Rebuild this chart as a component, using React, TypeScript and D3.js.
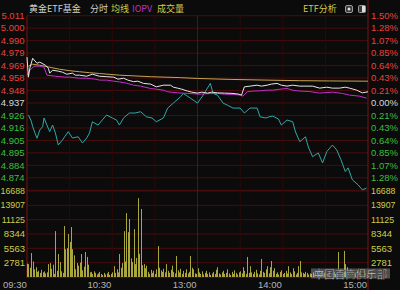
import React from 'react';
import * as d3 from 'd3';

const W = 400;
const H = 290;
const preClose = 4.937;
const priceMax = 5.011;
const priceMin = 4.863;
const volMax = 16688;

const priceTicks = ['5.011', '5.000', '4.990', '4.979', '4.969', '4.958', '4.948', '4.937', '4.926', '4.916', '4.905', '4.895', '4.884', '4.874'];
const pctTicks = ['1.50%', '1.28%', '1.07%', '0.85%', '0.64%', '0.43%', '0.21%', '0.00%', '0.21%', '0.43%', '0.64%', '0.85%', '1.07%', '1.28%'];
const volTicks = [16688, 13907, 11125, 8344, 5563, 2781];
const timeLabels = ['09:30', '10:30', '13:00', '14:00', '15:00'];
const timeLabelMin = [0, 60, 120, 180, 240];
const gridMinutes = [30, 60, 90, 120, 150, 180, 210];

// 分时 (white)
const priceT = [0, 1, 2, 4, 7, 9, 13, 15, 16, 18, 22, 25, 28, 32, 34, 37, 42, 46, 51, 56, 61, 64, 68, 71, 75, 78, 82, 87, 91, 96, 101, 103, 106, 109, 113, 116, 120, 123, 127, 130, 134, 139, 145, 149, 151, 153, 157, 162, 165, 169, 172, 176, 179, 183, 187, 192, 197, 201, 206, 211, 215, 220, 224, 227, 232, 236, 240];
const priceV = [4.9758, 4.9589, 4.9665, 4.9749, 4.9707, 4.9716, 4.969, 4.9665, 4.9623, 4.9648, 4.964, 4.9631, 4.9614, 4.9623, 4.9606, 4.9606, 4.9597, 4.9614, 4.9597, 4.9593, 4.9589, 4.9572, 4.958, 4.9564, 4.9551, 4.9555, 4.9536, 4.953, 4.9507, 4.9521, 4.9521, 4.9504, 4.9496, 4.9487, 4.9471, 4.9462, 4.9454, 4.9462, 4.9454, 4.9462, 4.9456, 4.9454, 4.9451, 4.9445, 4.9437, 4.9507, 4.9513, 4.9521, 4.9513, 4.9521, 4.953, 4.9536, 4.9521, 4.9513, 4.9521, 4.9513, 4.9513, 4.9513, 4.9496, 4.9504, 4.9496, 4.9496, 4.9504, 4.9496, 4.9479, 4.9456, 4.9465];

// IOPV (magenta)
const iopvT = [0, 2, 5, 9, 12, 14, 20, 27, 30, 37, 42, 48, 51, 56, 61, 65, 70, 75, 80, 87, 91, 96, 99, 106, 113, 122, 127, 134, 139, 145, 150, 152, 155, 159, 164, 169, 173, 178, 183, 187, 192, 199, 206, 215, 222, 227, 234, 239];
const iopvV = [4.9606, 4.9648, 4.9682, 4.9682, 4.9673, 4.9606, 4.9597, 4.9589, 4.9589, 4.958, 4.958, 4.9572, 4.9564, 4.9564, 4.9555, 4.9549, 4.9538, 4.9521, 4.9513, 4.9493, 4.9487, 4.9479, 4.9465, 4.9456, 4.9451, 4.9445, 4.9449, 4.9451, 4.9445, 4.9443, 4.9437, 4.9428, 4.9465, 4.9471, 4.9473, 4.9479, 4.9479, 4.9487, 4.9493, 4.9479, 4.9471, 4.9467, 4.9454, 4.9462, 4.9451, 4.9437, 4.9428, 4.9411];

// 均线 (yellow)
const avgT = [1, 4, 9, 16, 23, 30, 37, 44, 51, 65, 87, 108, 120, 143, 169, 192, 213, 240];
const avgV = [4.9682, 4.9699, 4.969, 4.9673, 4.9656, 4.9644, 4.9635, 4.9627, 4.962, 4.9606, 4.9593, 4.9585, 4.9578, 4.957, 4.9564, 4.9559, 4.9557, 4.9555];

// cyan line
const cyanT = [1, 3, 4, 7, 9, 11, 12, 14, 16, 18, 20, 22, 25, 29, 32, 36, 39, 42, 44, 46, 50, 53, 56, 60, 63, 65, 68, 72, 76, 80, 84, 88, 91, 96, 99, 103, 108, 110, 115, 120, 124, 127, 129, 131, 134, 138, 141, 145, 150, 153, 157, 162, 164, 168, 171, 173, 177, 179, 183, 187, 189, 192, 196, 198, 201, 205, 208, 211, 215, 218, 221, 224, 226, 229, 233, 236, 239];
const cyanV = [4.9268, 4.9217, 4.9169, 4.9071, 4.9141, 4.9169, 4.9243, 4.9183, 4.9127, 4.9183, 4.9116, 4.9014, 4.9057, 4.9127, 4.9073, 4.9084, 4.9031, 4.9073, 4.9116, 4.9211, 4.9183, 4.9226, 4.9268, 4.9243, 4.9226, 4.9183, 4.9243, 4.9285, 4.9285, 4.9296, 4.9253, 4.9243, 4.9211, 4.9243, 4.9327, 4.9369, 4.9422, 4.9451, 4.9411, 4.9369, 4.9437, 4.9496, 4.9536, 4.9451, 4.9437, 4.9369, 4.9352, 4.9327, 4.9327, 4.9285, 4.9327, 4.9327, 4.9253, 4.9243, 4.9255, 4.9259, 4.9234, 4.9183, 4.9226, 4.9211, 4.9124, 4.9042, 4.9084, 4.8997, 4.8915, 4.8947, 4.8862, 4.8958, 4.9014, 4.8972, 4.8888, 4.8789, 4.882, 4.8719, 4.8677, 4.8634, 4.8648];

// 成交量 per minute (241 bars)
const volumes = [
  2600, 2500, 1800, 4650, 3000, 1500, 1900, 1000, 1200, 800,
  1400, 900, 1100, 700, 900, 2500, 2700, 1600, 2400, 600,
  8900, 1200, 4460, 2900, 1100, 800, 9900, 5400, 5600, 8340,
  6800, 9700, 5400, 4200, 1500, 2700, 2200, 2800, 4460, 1300,
  2000, 4850, 3900, 2400, 900, 1000, 600, 1100, 800, 500,
  700, 1000, 600, 400, 800, 500, 700, 1000, 400, 600,
  900, 2100, 800, 1500, 900, 4460, 1800, 2700, 8900, 3000,
  12400, 8700, 11250, 3600, 2900, 9300, 2500, 3700, 15300, 4500,
  13200, 2300, 2500, 1700, 2200, 1000, 600, 1400, 800, 1200,
  600, 1500, 6000, 1800, 1300, 1000, 1600, 900, 2500, 1200,
  800, 1400, 2200, 1000, 700, 4070, 1300, 900, 1600, 600,
  1200, 800, 1500, 700, 1000, 4070, 1800, 1500, 700, 600,
  1700, 900, 600, 1100, 500, 800, 1200, 600, 900, 400,
  700, 1000, 600, 1400, 1900, 700, 500, 900, 1200, 600,
  800, 1500, 700, 400, 1000, 600, 1300, 800, 500, 900,
  1100, 700, 1900, 1200, 600, 3900, 800, 2100, 900, 600,
  1000, 1400, 700, 500, 1200, 3500, 1000, 800, 1500, 2100,
  700, 1900, 3100, 1200, 1700, 600, 900, 500, 1000, 1300,
  600, 800, 1200, 700, 2100, 900, 600, 1700, 1100, 500,
  800, 2100, 3100, 900, 800, 600, 1000, 800, 500, 700,
  600, 900, 500, 800, 1000, 600, 700, 1200, 500, 800,
  900, 600, 1100, 700, 500, 800, 1000, 600, 900, 4850,
  1500, 800, 1200, 5050, 2500, 1900, 1000, 1200, 700, 900,
  600, 800, 500, 700, 900, 600, 800, 500, 700, 600,
  900,
];

const NUM = '"Liberation Sans", Arial, sans-serif';
const CJK = '"Noto Sans CJK SC", "Noto Sans", sans-serif';

const RED = '#e8413c';
const GREEN = '#3cbf3c';
const NEUTRAL = '#d8d8d8';
const VOLTXT = '#d0cc48';
const GRID = '#4a0c0c';
const GRID2 = '#7a1414';

export default function App() {
  const x = d3.scaleLinear().domain([0, 240]).range([27, 368]);
  const yP = d3.scaleLinear().domain([priceMin, priceMax]).range([190.3, 15.7]);
  const yV = d3.scaleLinear().domain([0, volMax]).range([277, 191]);
  const step = (priceMax - priceMin) / 14;
  const gridPrices = d3.range(15).map((i) => priceMax - i * step);

  const mk = (t: number[], v: number[]) =>
    d3.line<number>().x((_, i) => x(t[i])).y((d) => yP(d))(v) || '';

  const labelColor = (i: number) => (i < 7 ? RED : i === 7 ? NEUTRAL : GREEN);

  return (
    <svg width={W} height={H} style={{ position: 'fixed', left: 0, top: 0, background: '#0b0b0b' }}>
      <rect x={0} y={0} width={W} height={H} fill="#0b0b0b" />
      {gridPrices.map((p, i) => (
        <line key={'hp' + i} x1={27} x2={368} y1={yP(p)} y2={yP(p)} stroke={GRID} strokeWidth={1} />
      ))}
      {[0, ...volTicks].map((v, i) => (
        <line key={'hv' + i} x1={27} x2={368} y1={yV(v)} y2={yV(v)} stroke={v === 0 ? GRID2 : GRID} strokeWidth={1} />
      ))}
      {gridMinutes.map((m) => (
        <line key={'vg' + m} x1={x(m)} x2={x(m)} y1={15.7} y2={277} stroke={m === 120 ? '#5a1010' : '#2e0808'} strokeWidth={1} />
      ))}
      <line x1={27} x2={27} y1={15.7} y2={278} stroke={GRID2} />
      <line x1={368} x2={368} y1={0} y2={H} stroke={GRID2} />

      {volumes.map((v, i) => (
        <rect key={'b' + i} x={Math.round(x(i))} y={yV(v)} width={1} height={yV(0) - yV(v)} fill="#a9a63c" />
      ))}

      <path d={mk(avgT, avgV)} fill="none" stroke="#c8a450" strokeWidth={1} />
      <path d={mk(cyanT, cyanV)} fill="none" stroke="#2fa8a8" strokeWidth={1} />
      <path d={mk(iopvT, iopvV)} fill="none" stroke="#c030c8" strokeWidth={1} />
      <path d={mk(priceT, priceV)} fill="none" stroke="#e6e6e6" strokeWidth={1} />

      {priceTicks.map((t, i) => (
        <text key={'pl' + i} x={24.5} y={yP(gridPrices[i])} dy="0.35em" textAnchor="end" fontFamily={NUM} fontSize={9.5} fill={labelColor(i)}>
          {t}
        </text>
      ))}
      {pctTicks.map((t, i) => (
        <text key={'pr' + i} x={371} y={yP(gridPrices[i])} dy="0.35em" textAnchor="start" fontFamily={NUM} fontSize={9.5} fill={labelColor(i)}>
          {t}
        </text>
      ))}
      {volTicks.map((v, i) => (
        <g key={'vl' + i}>
          <text x={25} y={yV(v)} dy="0.35em" textAnchor="end" fontFamily={NUM} fontSize={v > 9999 ? 8.8 : 9.5} fill={VOLTXT}>
            {v}
          </text>
          <text x={371} y={yV(v)} dy="0.35em" textAnchor="start" fontFamily={NUM} fontSize={v > 9999 ? 8.8 : 9.5} fill={VOLTXT}>
            {v}
          </text>
        </g>
      ))}
      {timeLabels.map((t, i) => (
        <text key={'tl' + i} x={i === 0 ? 3 : x(timeLabelMin[i]) - 1} y={287.5} textAnchor={i === 0 ? 'start' : 'end'} fontFamily={NUM} fontSize={9.5} fill="#b4b4b4">
          {t}
        </text>
      ))}

      <text x={29} y={12} fontFamily={CJK} fontSize={9} fill="#d0d0d0">黄金ETF基金</text>
      <text x={90} y={12} fontFamily={CJK} fontSize={9} fill="#d0d0d0">分时</text>
      <text x={111} y={12} fontFamily={CJK} fontSize={9} fill="#d8c848">均线</text>
      <text x={132} y={12} fontFamily={CJK} fontSize={9} fill="#c030c8">IOPV</text>
      <text x={157} y={12} fontFamily={CJK} fontSize={9} fill="#d8c848">成交量</text>
      <text x={303} y={12} fontFamily={CJK} fontSize={9} fill="#d8c848">ETF分析</text>
      <rect x={345.5} y={5.5} width={7} height={7} rx={1.5} fill="#3a3a3a" stroke="#9a9a9a" />
      <circle cx={349} cy={9} r={1.5} fill="#dddddd" />
      <rect x={358.5} y={5.5} width={7} height={7} rx={1} fill="#3a3a3a" stroke="#9a9a9a" />
      <rect x={362} y={6} width={3} height={6} fill="#dddddd" />

      <rect x={311} y={268.5} width={79} height={10} fill="rgba(200,200,200,0.35)" />
      <text x={350.5} y={277.5} textAnchor="middle" fontFamily={CJK} fontSize={10.5} fontWeight={700} fill="#c8c8c8" stroke="#3a3a3a" strokeWidth={0.6} letterSpacing={0}>
        中国首商俱乐部
      </text>
    </svg>
  );
}
